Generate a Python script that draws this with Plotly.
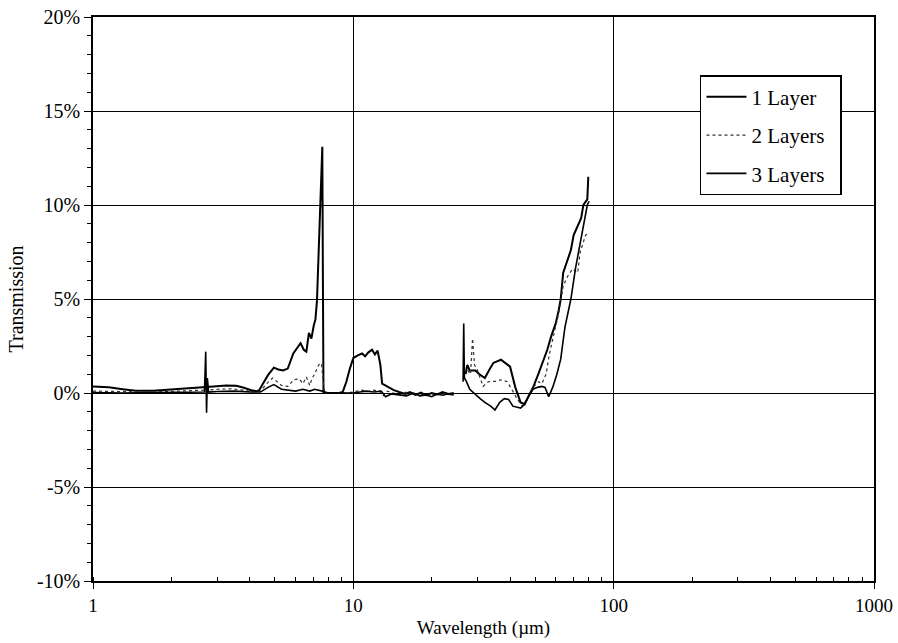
import plotly.graph_objects as go

# ---------------- data (wavelength in µm, transmission in %) ----------------
wl_1layer = [
    1.0, 1.15, 1.3, 1.46, 1.7, 2.0, 2.3, 2.6, 2.9, 3.25,
    3.55, 3.8, 4.05, 4.25, 4.35, 4.5, 4.7, 4.95, 5.15, 5.37,
    5.6, 5.88, 6.1, 6.27, 6.45, 6.6, 6.75, 6.9, 7.05, 7.15,
    7.25, 7.33, 7.4, 7.47, 7.53, 7.6, 7.64, 7.68, 8.2, 8.8,
    9.1, 9.4, 9.7, 10.0, 10.4, 10.8, 11.1, 11.4, 11.8, 12.1,
    12.4, 12.7, 12.9, 13.3, 13.8, 14.3, 15.0, 15.8, 16.5, 17.3,
    18.2, 19.0, 20.0, 21.0, 22.0, 23.2, 24.3, None, 27.0, 27.4,
    28.0, 29.4, 30.5, 32.0, 33.5, 34.5, 36.9, 38.5, 40.0, 41.9,
    43.9, 45.5, 48.0, 49.2, 51.0, 52.6, 55.6, 57.5, 59.9, 61.5,
    62.6, 64.0, 66.5, 68.5, 70.2, 73.0, 75.0, 76.5, 79.2, 79.9,
]
t_1layer = [
    0.35, 0.3, 0.2, 0.12, 0.12, 0.18, 0.25, 0.3, 0.35, 0.4,
    0.38, 0.28, 0.15, 0.1, 0.15, 0.5, 0.95, 1.35, 1.25, 1.2,
    1.3, 2.1, 2.4, 2.65, 2.3, 2.2, 3.2, 2.9, 3.6, 3.9,
    4.9, 6.9, 8.7, 9.9, 10.8, 13.1, 6.0, 0.0, 0.0, 0.0,
    0.05, 0.6, 1.3, 1.86, 2.0, 2.1, 1.95, 2.15, 2.3, 2.05,
    2.25, 1.5, 0.5, 0.4, 0.3, 0.15, 0.05, -0.05, 0.05, -0.1,
    0.02, -0.12, 0.0, -0.08, 0.05, -0.05, 0.0, None, 1.0, 1.5,
    1.2, 1.2, 1.0, 0.8, 1.3, 1.6, 1.77, 1.6, 1.4, 0.3,
    -0.5, -0.6, 0.0, 0.35, 0.9, 1.4, 2.3, 3.0, 3.7, 4.4,
    5.0, 6.4, 7.1, 7.6, 8.4, 8.9, 9.3, 10.0, 10.3, 11.5,
]

wl_2layers = [
    1.0, 1.3, 1.7, 2.1, 2.5, 2.65, 2.72, 2.78, 3.0, 3.4,
    3.8, 4.1, 4.4, 4.65, 4.9, 5.1, 5.3, 5.6, 5.9, 6.2,
    6.4, 6.6, 6.8, 6.95, 7.1, 7.3, 7.45, 7.55, 7.65, 7.75,
    8.5, 9.5, 10.3, 10.8, 11.4, 12.0, 12.6, 13.0, 13.5, 14.2,
    15.0, 16.0, 17.0, 18.0, 19.0, 20.0, 21.0, 22.0, 23.0, 24.3,
    None, 27.5, 28.2, 28.7, 29.2, 30.0, 31.5, 33.0, 35.0, 37.0,
    39.0, 41.0, 42.5, 44.6, 46.5, 49.0, 51.5, 53.0, 55.0, 56.5,
    58.7, 61.6, 64.0, 66.5, 69.6, 72.7, 74.4, 78.0, 80.0,
]
t_2layers = [
    0.1, 0.08, 0.05, 0.1, 0.15, 0.15, 0.3, 0.15, 0.2, 0.22,
    0.15, 0.05, 0.1, 0.5, 0.8, 0.6, 0.4, 0.35, 0.7, 0.75,
    0.5, 0.85, 0.4, 0.8, 1.0, 1.4, 1.6, 1.5, 0.7, 0.0,
    0.0, 0.0, 0.1, 0.15, 0.08, 0.15, 0.1, -0.15, 0.1, 0.0,
    -0.1, 0.05, -0.1, -0.05, -0.15, -0.05, -0.12, 0.0, -0.08, -0.05,
    None, 1.2, 1.0, 2.9, 1.5, 1.2, 0.35, 0.6, 0.62, 0.7,
    0.6, 0.1, -0.3, -0.7, -0.3, 0.3, 0.6, 0.5, 1.0, 2.0,
    3.0, 4.3, 5.7, 6.2, 6.6, 6.4, 7.5, 8.4, 8.5,
]

wl_3layers = [
    1.0, 1.3, 1.7, 2.1, 2.5, 2.68, 2.71, 2.73, 2.75, 2.78,
    3.0, 3.5, 4.0, 4.4, 4.7, 4.95, 5.3, 5.7, 6.0, 6.4,
    6.8, 7.1, 7.4, 7.6, 8.0, 9.0, 10.0, 10.6, 11.2, 12.0,
    12.8, 13.3, 14.0, 15.0, 16.0, 17.0, 18.0, 19.0, 20.0, 21.0,
    22.0, 23.0, 24.3, None, 26.4, 26.55, 26.7, 27.2, 28.0, 29.0,
    30.7, 32.0, 33.7, 35.0, 36.5, 38.0, 39.5, 41.0, 43.9, 45.5,
    47.0, 49.0, 51.0, 53.0, 54.5, 56.3, 58.5, 60.5, 62.6, 65.0,
    68.5, 71.3, 74.4, 76.5, 79.2, 80.5,
]
t_3layers = [
    0.02, 0.0, 0.02, 0.05, 0.05, 0.05, 2.2, -1.05, 0.8, 0.05,
    0.08, 0.1, 0.05, 0.05, 0.3, 0.45, 0.2, 0.15, 0.1, 0.2,
    0.1, 0.2, 0.15, 0.1, 0.0, 0.0, 0.0, 0.05, 0.1, 0.05,
    0.1, -0.2, -0.05, -0.1, -0.15, 0.0, -0.15, -0.1, -0.2, -0.05,
    -0.12, -0.05, -0.1, None, 0.6, 3.7, 0.8, 0.6, 0.2, 0.0,
    -0.3, -0.5, -0.7, -0.9, -0.5, -0.3, -0.35, -0.7, -0.8, -0.6,
    -0.2, 0.2, 0.3, 0.35, 0.3, -0.2, 0.35, 1.0, 1.8, 3.5,
    5.0, 6.6, 8.0, 8.9, 10.0, 10.2,
]

series_names = ["1 Layer", "2 Layers", "3 Layers"]
x_ticks = [1, 10, 100, 1000]
y_ticks = [-10, -5, 0, 5, 10, 15, 20]
y_ticklabels = ["-10%", "-5%", "0%", "5%", "10%", "15%", "20%"]

FONT = "Liberation Serif, Times New Roman, serif"
PAD = "\u00a0\u00a0"  # invisible padding so the legend box is as wide as the original

fig = go.Figure()
fig.add_trace(go.Scatter(x=wl_1layer, y=t_1layer, mode="lines", name=series_names[0] + PAD,
                         legendgroup="a", line=dict(color="black", width=2)))
fig.add_trace(go.Scatter(x=wl_2layers, y=t_2layers, mode="lines", name=series_names[1] + PAD,
                         legendgroup="b", line=dict(color="#333333", width=1.2, dash="dot")))
fig.add_trace(go.Scatter(x=wl_3layers, y=t_3layers, mode="lines", name=series_names[2] + PAD,
                         legendgroup="c", line=dict(color="black", width=1.6)))

fig.update_layout(
    width=898, height=643,
    margin=dict(l=93, r=24, t=17, b=62),
    paper_bgcolor="white", plot_bgcolor="white",
    font=dict(family=FONT, size=19, color="black"),
    legend=dict(x=0.959, xanchor="right", y=0.897, yanchor="top",
                bordercolor="black", borderwidth=1.5, bgcolor="white",
                font=dict(family=FONT, size=21), tracegroupgap=8,
                itemwidth=40),
)
fig.update_xaxes(
    type="log", range=[0, 3], tickmode="array", tickvals=x_ticks,
    ticktext=[str(v) for v in x_ticks], automargin=False,
    showgrid=True, gridcolor="black", gridwidth=1.2,
    showline=True, linecolor="black", linewidth=1.5, mirror=True,
    ticks="outside", ticklen=6, tickcolor="black", tickwidth=1.2,
    minor=dict(ticks="inside", ticklen=4, tickcolor="black", dtick="D1", showgrid=False),
    title=dict(text="Wavelength (µm)", font=dict(family=FONT, size=19), standoff=6),
    tickfont=dict(family=FONT, size=19),
)
fig.update_yaxes(
    range=[-10, 20], tickmode="array", tickvals=y_ticks, ticktext=y_ticklabels,
    automargin=False,
    showgrid=True, gridcolor="black", gridwidth=1.2,
    zeroline=True, zerolinecolor="black", zerolinewidth=1.2,
    showline=True, linecolor="black", linewidth=1.5, mirror=True,
    ticks="outside", ticklen=7, tickcolor="black", tickwidth=1.2,
    minor=dict(ticks="outside", ticklen=4, tickcolor="black", dtick=1, tick0=0, showgrid=False),
    title=dict(text="Transmission", font=dict(family=FONT, size=20), standoff=8),
    tickfont=dict(family=FONT, size=20),
)

fig.write_html("out.html", config={"displayModeBar": False},
               post_script="document.body.style.margin='0px';")
